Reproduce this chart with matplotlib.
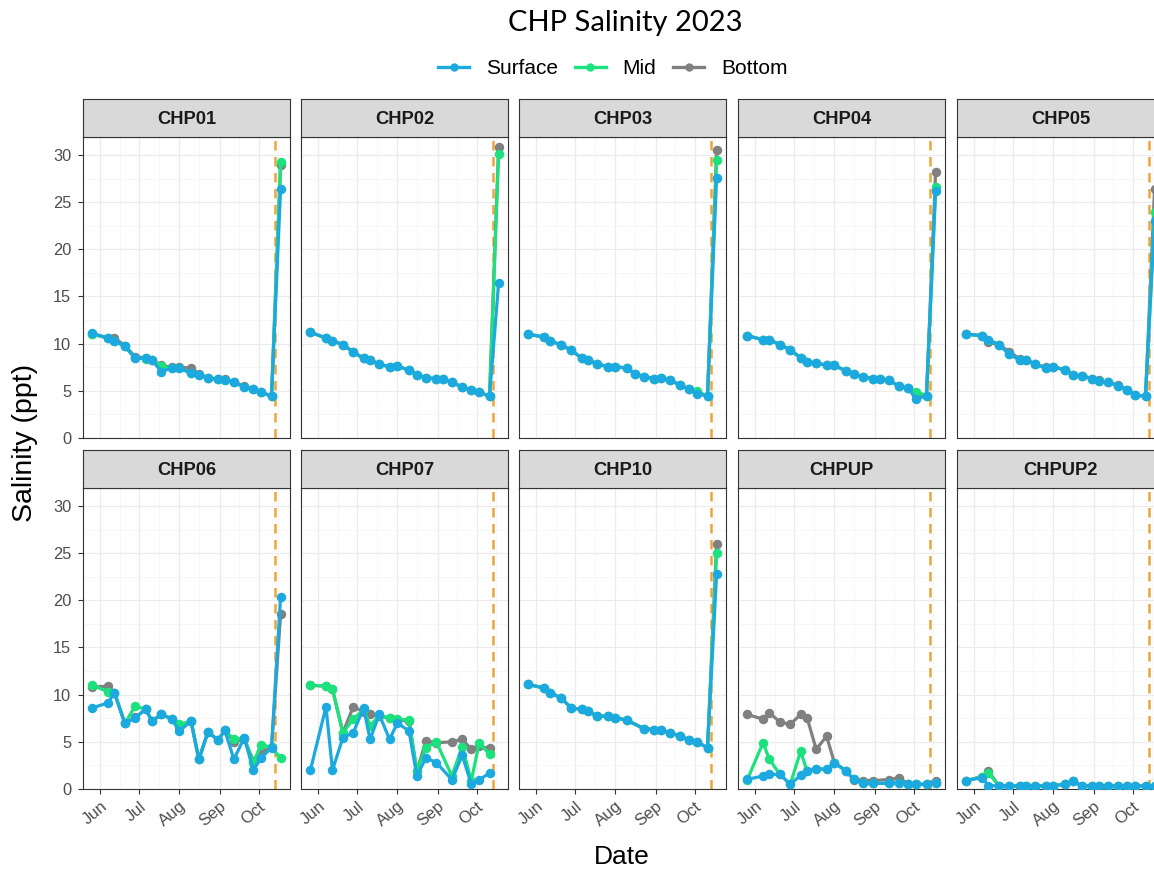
import numpy as np
import pandas as pd
import matplotlib
matplotlib.use("Agg")
import matplotlib.pyplot as plt
import matplotlib.dates as mdates
from matplotlib.lines import Line2D

plt.rcParams['font.family'] = ['Liberation Sans', 'DejaVu Sans']

# sampling dates (2023)
dates = pd.to_datetime([
    "2023-05-26", "2023-06-07", "2023-06-12", "2023-06-20", "2023-06-28",
    "2023-07-06", "2023-07-11", "2023-07-18", "2023-07-26", "2023-08-01",
    "2023-08-10", "2023-08-16", "2023-08-23", "2023-08-31", "2023-09-05",
    "2023-09-12", "2023-09-20", "2023-09-27", "2023-10-03", "2023-10-11",
    "2023-10-18"])
event_date = pd.Timestamp("2023-10-14")

stations = ["CHP01", "CHP02", "CHP03", "CHP04", "CHP05",
            "CHP06", "CHP07", "CHP10", "CHPUP", "CHPUP2"]
nan = np.nan

# salinity (ppt) per station: surface / mid / bottom
chp01_surface = [11.1, 10.6, 10.3, 9.7, 8.45, 8.45, 8.27, 7.03, 7.4, 7.4, 6.86, 6.7, 6.4, 6.2, 6.15, 5.9, 5.4, 5.2, 4.9, 4.4, 26.4]
chp01_mid     = [11.0, 10.6, 10.3, 9.7, 8.5, 8.4, 8.3, 7.6, 7.4, 7.4, 6.9, 6.7, 6.4, 6.2, 6.15, 5.9, 5.4, 5.2, 4.9, 4.4, 29.2]
chp01_bottom  = [11.0, 10.6, 10.6, 9.8, 8.6, 8.5, 8.3, 7.7, 7.5, 7.5, 7.4, 6.8, 6.4, 6.2, 6.2, 5.9, 5.5, 5.2, 4.9, 4.4, 28.9]

chp02_surface = [11.2, 10.6, 10.3, 9.9, 9.1, 8.45, 8.27, 7.8, 7.56, 7.6, 7.2, 6.7, 6.4, 6.26, 6.26, 5.9, 5.4, 5.1, 4.9, 4.4, 16.4]
chp02_mid     = [11.2, 10.6, 10.3, 9.9, 9.1, 8.45, 8.27, 7.8, 7.56, 7.6, 7.2, 6.7, 6.4, 6.26, 6.26, 5.9, 5.4, 5.1, 4.9, 4.4, 30.1]
chp02_bottom  = [11.2, 10.6, 10.3, 9.9, 9.1, 8.45, 8.27, 7.8, 7.56, 7.6, 7.2, 6.7, 6.4, 6.26, 6.26, 5.9, 5.4, 5.1, 4.9, 4.4, 30.8]

chp03_surface = [11.0, 10.7, 10.3, 9.86, 9.33, 8.45, 8.27, 7.85, 7.56, 7.56, 7.4, 6.8, 6.5, 6.3, 6.33, 6.15, 5.6, 5.16, 4.7, 4.45, 27.6]
chp03_mid     = [11.0, 10.7, 10.3, 9.86, 9.33, 8.45, 8.27, 7.85, 7.56, 7.56, 7.4, 6.8, 6.5, 6.3, 6.33, 6.15, 5.6, 5.16, 4.95, 4.45, 29.5]
chp03_bottom  = [11.0, 10.7, 10.3, 9.86, 9.33, 8.45, 8.27, 7.85, 7.56, 7.56, 7.4, 6.8, 6.5, 6.3, 6.33, 6.15, 5.6, 5.16, 4.8, 4.45, 30.5]

chp04_surface = [10.85, 10.4, 10.4, 9.9, 9.33, 8.5, 8.1, 7.9, 7.74, 7.7, 7.1, 6.75, 6.5, 6.26, 6.26, 6.1, 5.5, 5.27, 4.1, 4.5, 26.2]
chp04_mid     = [10.85, 10.4, 10.4, 9.9, 9.33, 8.5, 8.1, 7.9, 7.74, 7.7, 7.1, 6.75, 6.5, 6.26, 6.26, 6.1, 5.5, 5.27, 4.9, 4.5, 26.6]
chp04_bottom  = [10.85, 10.4, 10.4, 9.9, 9.33, 8.5, 8.1, 7.9, 7.74, 7.7, 7.1, 6.75, 6.5, 6.26, 6.26, 6.1, 5.5, 5.27, 4.6, 4.5, 28.2]

chp05_surface = [11.0, 10.85, 10.4, 9.9, 8.9, 8.27, 8.27, 7.8, 7.46, 7.56, 7.2, 6.7, 6.6, 6.26, 6.04, 5.9, 5.55, 5.1, 4.56, 4.4, 23.0]
chp05_mid     = [11.0, 10.85, 10.4, 9.9, 8.9, 8.3, 8.27, 7.8, 7.46, 7.56, 7.2, 6.7, 6.6, 6.26, 6.04, 5.9, 5.55, 5.1, 4.56, 4.4, 24.0]
chp05_bottom  = [11.0, 10.85, 10.15, 9.9, 9.15, 8.4, 8.3, 7.8, 7.5, 7.56, 7.2, 6.7, 6.6, 6.3, 6.1, 5.9, 5.6, 5.1, 4.6, 4.4, 26.4]

chp06_surface = [8.6, 9.13, 10.2, 6.95, 7.55, 8.44, 7.2, 7.9, 7.45, 6.14, 7.2, 3.14, 6.03, 5.18, 6.24, 3.14, 5.43, 2.0, 3.3, 4.37, 20.35]
chp06_mid     = [11.0, 10.3, 10.2, 6.95, 8.8, 8.44, 7.2, 7.9, 7.45, 6.85, 7.2, 3.14, 6.03, 5.18, 6.24, 5.26, 5.43, 2.8, 4.7, 4.4, 3.3]
chp06_bottom  = [10.8, 10.9, 10.2, 6.95, 7.6, 8.44, 7.2, 7.9, 7.45, 6.6, 7.2, 3.14, 6.03, 5.18, 6.24, 5.0, 5.3, 3.0, 4.0, 4.4, 18.5]

chp07_surface = [2.0, 8.7, 2.0, 5.43, 5.96, 8.6, 5.26, 7.9, 5.26, 7.0, 6.14, 1.38, 3.3, 2.8, nan, 1.0, 3.56, 0.5, 0.95, 1.7, nan]
chp07_mid     = [11.0, 10.9, 10.6, 5.96, 7.4, 8.44, 6.7, 7.8, 7.55, 7.4, 7.3, 1.9, 4.37, 5.0, nan, 1.38, 4.5, 0.85, 4.9, 3.67, nan]
chp07_bottom  = [11.0, 10.9, 10.6, 5.96, 8.7, 8.2, 7.9, 7.7, 7.5, 7.3, 7.2, 1.9, 5.1, 4.9, nan, 5.0, 5.26, 4.2, 4.55, 4.3, nan]

chp10_surface = [11.08, 10.7, 10.2, 9.66, 8.6, 8.44, 8.25, 7.72, 7.72, 7.55, 7.3, nan, 6.38, 6.3, 6.24, 5.96, 5.6, 5.18, 4.97, 4.37, 22.8]
chp10_mid     = [11.08, 10.7, 10.2, 9.66, 8.6, 8.44, 8.25, 7.72, 7.72, 7.55, 7.3, nan, 6.38, 6.3, 6.24, 5.96, 5.6, 5.18, 4.97, 4.37, 25.0]
chp10_bottom  = [11.08, 10.7, 10.2, 9.66, 8.6, 8.44, 8.25, 7.72, 7.72, 7.55, 7.3, nan, 6.38, 6.3, 6.24, 5.96, 5.6, 5.18, 4.97, 4.37, 26.0]

chpup_surface = [1.02, 1.38, 1.55, 1.55, 0.5, 1.45, 1.9, 2.15, 2.08, 2.8, 1.9, 1.02, 0.6, 0.6, nan, 0.6, 0.67, 0.5, 0.5, 0.5, 0.6]
chpup_mid     = [1.0, 4.9, 3.14, 1.55, 0.5, 4.0, 1.9, 2.15, 2.08, 2.8, 1.9, 1.02, 0.6, 0.6, nan, 0.6, 0.67, 0.5, 0.5, 0.5, 0.6]
chpup_bottom  = [7.9, 7.4, 8.07, 7.1, 6.85, 7.9, 7.55, 4.2, 5.6, 2.8, 1.9, 1.0, 0.9, 0.9, nan, 1.0, 1.2, 0.5, 0.5, 0.5, 0.8]

chpup2_surface = [0.9, 1.2, 0.35, 0.35, 0.35, 0.3, 0.35, 0.35, 0.3, 0.35, 0.5, 0.8, 0.35, 0.3, 0.35, 0.3, 0.35, 0.3, 0.3, 0.35, 0.35]
chpup2_mid     = [0.9, 1.3, 1.7, 0.35, 0.35, 0.3, 0.35, 0.35, 0.3, 0.35, 0.5, 0.8, 0.35, 0.3, 0.35, 0.3, 0.35, 0.3, 0.3, 0.35, 0.35]
chpup2_bottom  = [0.9, 1.3, 1.9, 0.35, 0.35, 0.3, 0.35, 0.35, 0.3, 0.35, 0.5, 0.8, 0.35, 0.3, 0.35, 0.3, 0.35, 0.3, 0.3, 0.35, 0.35]

surface = [chp01_surface, chp02_surface, chp03_surface, chp04_surface, chp05_surface,
           chp06_surface, chp07_surface, chp10_surface, chpup_surface, chpup2_surface]
mid = [chp01_mid, chp02_mid, chp03_mid, chp04_mid, chp05_mid,
       chp06_mid, chp07_mid, chp10_mid, chpup_mid, chpup2_mid]
bottom = [chp01_bottom, chp02_bottom, chp03_bottom, chp04_bottom, chp05_bottom,
          chp06_bottom, chp07_bottom, chp10_bottom, chpup_bottom, chpup2_bottom]

colors = {"Surface": "#1CA9DF", "Mid": "#1BE27C", "Bottom": "#808080"}

# layout in pixels (figure 1154 x 869)
W, H = 1154, 869
fig = plt.figure(figsize=(W / 100, H / 100), dpi=100)
col_left = [83, 301, 519, 738, 957]
panel_w = 207
row_top = [137, 488]
panel_h = 301
strip_h = 38

# x limits like ggplot (5% expansion)
span = dates.max() - dates.min()
xmin = dates.min() - span * 0.05
xmax = dates.max() + span * 0.05

for k, st in enumerate(stations):
    r, c = divmod(k, 5)
    l = col_left[c]
    t = row_top[r]
    ax = fig.add_axes([l / W, 1 - (t + panel_h) / H, panel_w / W, panel_h / H])
    sax = fig.add_axes([l / W, 1 - t / H, panel_w / W, strip_h / H])
    sax.set_facecolor("#D9D9D9")
    sax.set_xticks([])
    sax.set_yticks([])
    for s in sax.spines.values():
        s.set_color("#333333")
        s.set_linewidth(0.8)
    sax.text(0.5, 0.47, st, ha="center", va="center", fontsize=13.2,
             fontweight="bold", color="#1A1A1A", transform=sax.transAxes)

    ax.set_facecolor("white")
    ax.axvline(event_date, color="#E9A63A", lw=1.8, ls=(0, (3.8, 2.6)), zorder=1)
    for name, series in (("Bottom", bottom), ("Mid", mid), ("Surface", surface)):
        y = np.array(series[k], dtype=float)
        ok = ~np.isnan(y)
        ax.plot(dates[ok], y[ok], color=colors[name], lw=2.3, marker="o",
                markersize=5.8, zorder=3, solid_capstyle="round")

    ax.set_xlim(xmin, xmax)
    ax.set_ylim(0, 31.9)
    ax.xaxis.set_major_locator(mdates.MonthLocator())
    ax.xaxis.set_minor_locator(mdates.MonthLocator(bymonthday=16))
    ax.xaxis.set_major_formatter(mdates.DateFormatter("%b"))
    ax.set_yticks(np.arange(0, 31, 5))
    ax.set_yticks(np.arange(2.5, 31, 5), minor=True)
    ax.grid(which="major", color="#EBEBEB", lw=0.9, zorder=0)
    ax.grid(which="minor", color="#F3F3F3", lw=0.5, zorder=0)
    ax.set_axisbelow(True)
    for s in ax.spines.values():
        s.set_color("#333333")
        s.set_linewidth(0.8)
    ax.tick_params(which="minor", length=0)
    ax.tick_params(which="major", length=3.5, width=0.8, color="#333333",
                   labelcolor="#4D4D4D")
    ax.tick_params(axis="y", labelsize=11.8, pad=5)
    ax.tick_params(axis="x", labelsize=12)
    if c != 0:
        ax.tick_params(axis="y", length=0, labelleft=False)
    if r == 0:
        ax.tick_params(axis="x", length=0, labelbottom=False)
    else:
        plt.setp(ax.get_xticklabels(), rotation=40, ha="right",
                 rotation_mode="anchor")

fig.text(0.542, 0.974, "CHP Salinity 2023", ha="center", va="center",
         fontsize=21, family=["Lato", "DejaVu Sans"])
handles = [Line2D([0], [0], color=colors[n], lw=2.4, marker="o", markersize=5)
           for n in ("Surface", "Mid", "Bottom")]
fig.legend(handles, ["Surface", "Mid", "Bottom"], loc="center", ncol=3,
           bbox_to_anchor=(0.531, 0.921), frameon=False, fontsize=15,
           handlelength=1.5, handletextpad=0.8, columnspacing=0.8)
fig.text(0.539, 0.014, "Date", ha="center", va="center", fontsize=19)
fig.text(0.022, 0.49, "Salinity (ppt)", ha="center", va="center",
         fontsize=20.5, rotation=90)

fig.savefig("out.png", dpi=100)
